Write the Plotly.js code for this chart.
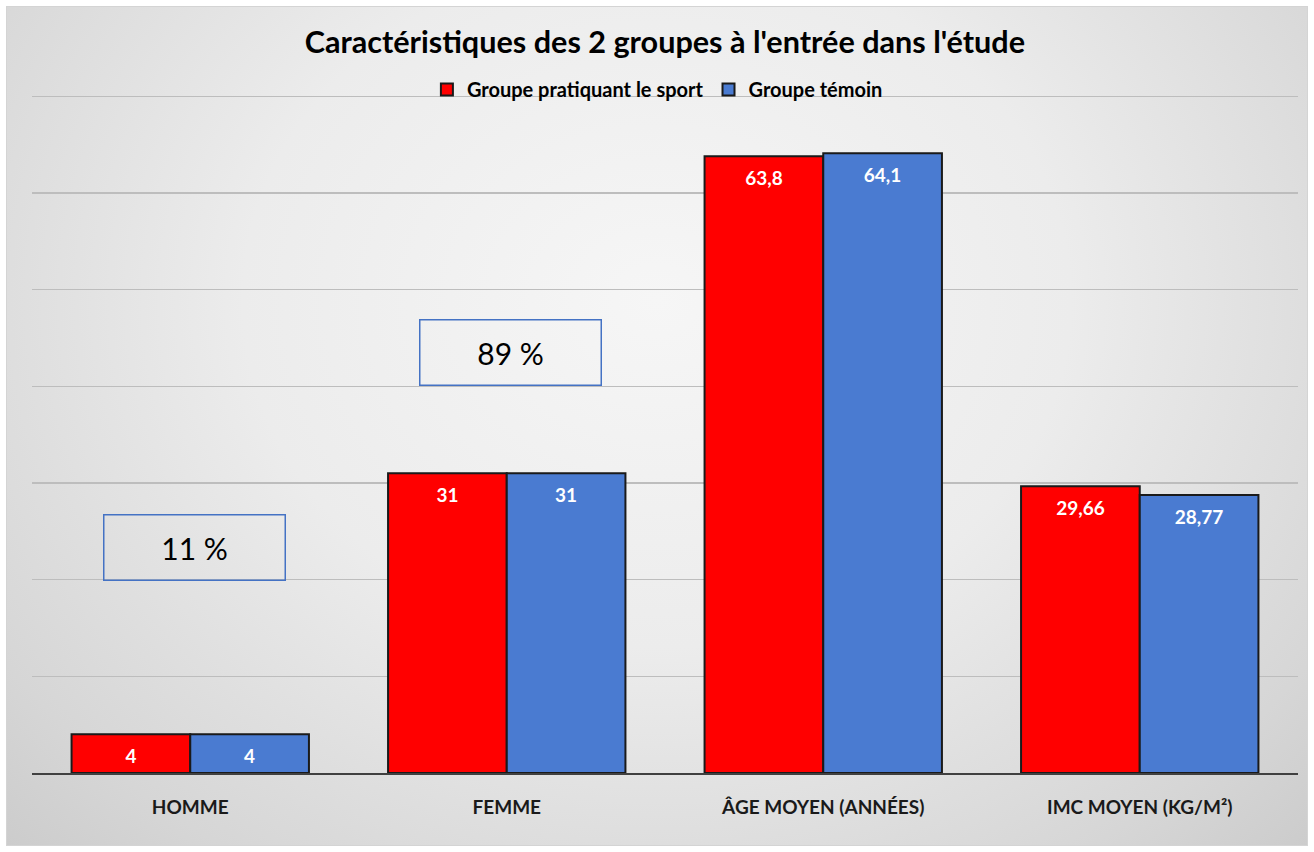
<!DOCTYPE html>
<html>
<head>
<meta charset="utf-8">
<script src="https://cdn.plot.ly/plotly-3.0.1.min.js"></script>
<style>
  html, body { margin: 0; padding: 0; background: #ffffff; }
  #frame {
    position: absolute; left: 6px; top: 6px; width: 1300px; height: 838px;
    border: 1px solid #d4d4d4;
    background: radial-gradient(ellipse at 50% 35%, #f6f6f6 0%, #ececec 45%, #d6d6d6 85%, #cccccc 100%);
  }
  #chart { position: absolute; left: 0; top: 0; width: 1314px; height: 852px; }
</style>
</head>
<body>
<div id="frame"></div>
<div id="chart"></div>
<script>
const categories = ["HOMME", "FEMME", "ÂGE MOYEN (ANNÉES)", "IMC MOYEN (KG/M²)"];
const sportValues = [4, 31, 63.8, 29.66];
const temoinValues = [4, 31, 64.1, 28.77];
const sportLabels = ["4", "31", "63,8", "29,66"];
const temoinLabels = ["4", "31", "64,1", "28,77"];
const seriesNames = ["Groupe pratiquant le sport", "Groupe témoin"];
const boxLabels = ["11 %", "89 %"];
const boxCategories = ["HOMME", "FEMME"];
const boxLevels = [23.3, 43.5];

const FONT = "Lato, 'Liberation Sans Narrow', Calibri, sans-serif";
const colors = ["#ff0000", "#4a7bd1"];
const values = [sportValues, temoinValues];
const labels = [sportLabels, temoinLabels];

const traces = [];
for (let s = 0; s < 2; s++) {
  traces.push({
    type: "bar", name: seriesNames[s], x: categories, y: values[s],
    marker: { color: colors[s], line: { color: "#1a1a1a", width: 2 } },
    hoverinfo: "skip"
  });
}
for (let s = 0; s < 2; s++) {
  traces.push({
    type: "scatter", mode: "markers+text", x: categories, y: values[s],
    text: labels[s], textposition: "bottom center",
    textfont: { color: "#ffffff", size: 19, family: FONT, weight: "bold" },
    marker: { size: 22, color: "rgba(0,0,0,0)" },
    showlegend: false, hoverinfo: "skip", cliponaxis: false
  });
}

const annotations = boxLabels.map((t, i) => ({
  x: boxCategories[i], y: boxLevels[i], xref: "x", yref: "y",
  text: t, showarrow: false,
  font: { family: FONT, size: 30, color: "#000000" },
  bordercolor: "#4472c4", borderwidth: 1.5,
  width: 178, height: 62, align: "center", valign: "middle",
  xshift: 4
}));

const layout = {
  width: 1314, height: 852,
  paper_bgcolor: "rgba(0,0,0,0)", plot_bgcolor: "rgba(0,0,0,0)",
  margin: { l: 32, r: 16, t: 77, b: 79 },
  font: { family: FONT, color: "#222222" },
  title: {
    text: "<b>Caractéristiques des 2 groupes à l'entrée dans l'étude</b>",
    font: { family: FONT, size: 30.6, color: "#000000" },
    x: 0.506, xanchor: "center", y: 0.95, yanchor: "middle"
  },
  barmode: "group", bargap: 0.25, bargroupgap: 0,
  scattermode: "group", scattergap: 0.25,
  showlegend: true,
  legend: {
    orientation: "h", x: 0.494, xanchor: "center", y: 0.982, yanchor: "middle",
    font: { family: FONT, size: 20, color: "#000000", weight: "bold" },
    bgcolor: "rgba(0,0,0,0)", itemwidth: 30, traceorder: "normal"
  },
  xaxis: {
    type: "category", showgrid: false, zeroline: false,
    showline: true, linecolor: "#404040", linewidth: 2,
    ticks: "", tickfont: { family: FONT, size: 19, color: "#1a1a1a", weight: "bold" },
    ticklabelstandoff: 16
  },
  yaxis: {
    range: [0, 72], dtick: 10, showticklabels: false,
    showgrid: true, gridcolor: "#bdbdbd", gridwidth: 1.2,
    zeroline: false, showline: false, ticks: ""
  },
  annotations: annotations
};

Plotly.newPlot("chart", traces, layout, { displayModeBar: false, staticPlot: true });
</script>
</body>
</html>
